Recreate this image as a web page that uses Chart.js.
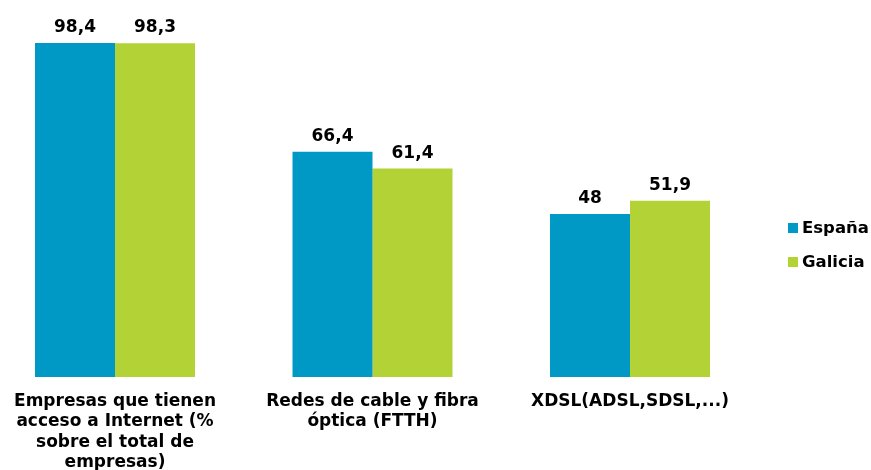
<!DOCTYPE html>
<html>
<head>
<meta charset="utf-8">
<script src="https://cdn.jsdelivr.net/npm/chart.js@4/dist/chart.umd.min.js"></script>
<style>
html,body{margin:0;padding:0;background:#fff;}
#wrap{width:871px;height:470px;position:relative;}
</style>
</head>
<body>
<div id="wrap"><canvas id="c" width="871" height="470"></canvas></div>
<script>
const categories = [
  ["Empresas que tienen", "acceso a Internet (%", "sobre el total de", "empresas)"],
  ["Redes de cable y fibra", "óptica (FTTH)"],
  ["XDSL(ADSL,SDSL,...)"]
];
const seriesNames = ["España", "Galicia"];
const espana = [98.4, 66.4, 48];
const galicia = [98.3, 61.4, 51.9];
const colors = ["#0099c6", "#b3d236"];

const FONT = "'DejaVu Sans', Verdana, sans-serif";

const valueLabels = {
  id: 'valueLabels',
  afterDatasetsDraw(chart) {
    const ctx = chart.ctx;
    ctx.save();
    ctx.font = "bold 17px " + FONT;
    ctx.fillStyle = "#000";
    ctx.textAlign = "center";
    ctx.textBaseline = "alphabetic";
    chart.data.datasets.forEach((ds, i) => {
      const meta = chart.getDatasetMeta(i);
      meta.data.forEach((el, j) => {
        const txt = String(ds.data[j]).replace('.', ',');
        ctx.fillText(txt, el.x, el.y - 11);
      });
    });
    ctx.restore();
  }
};

const customLegend = {
  id: 'customLegend',
  afterDraw(chart) {
    const ctx = chart.ctx;
    ctx.save();
    ctx.font = "bold 16.5px " + FONT;
    ctx.textAlign = "left";
    ctx.textBaseline = "middle";
    chart.data.datasets.forEach((ds, i) => {
      const cy = 228 + i * 34;
      ctx.fillStyle = ds.backgroundColor;
      ctx.fillRect(788, cy - 5, 10, 10);
      ctx.fillStyle = "#000";
      ctx.fillText(ds.label, 802, cy + 1);
    });
    ctx.restore();
  }
};

new Chart(document.getElementById('c'), {
  type: 'bar',
  data: {
    labels: categories,
    datasets: [
      { label: seriesNames[0], data: espana, backgroundColor: colors[0], clip: false },
      { label: seriesNames[1], data: galicia, backgroundColor: colors[1], clip: false }
    ]
  },
  options: {
    responsive: false,
    animation: false,
    events: [],
    categoryPercentage: 0.6214,
    barPercentage: 1,
    layout: { padding: { left: 115, right: 241, top: 37.6, bottom: 0 } },
    plugins: { legend: { display: false }, tooltip: { enabled: false } },
    scales: {
      x: {
        offset: false,
        grid: { display: false, drawTicks: false },
        border: { display: false },
        ticks: {
          color: "#000",
          font: { family: FONT, size: 17, weight: 'bold', lineHeight: 1.21 },
          maxRotation: 0, minRotation: 0, autoSkip: false, padding: 14
        },
        afterFit(scale) { scale.height = 93; }
      },
      y: {
        display: false,
        min: 0, max: 100
      }
    }
  },
  plugins: [valueLabels, customLegend]
});
</script>
</body>
</html>
